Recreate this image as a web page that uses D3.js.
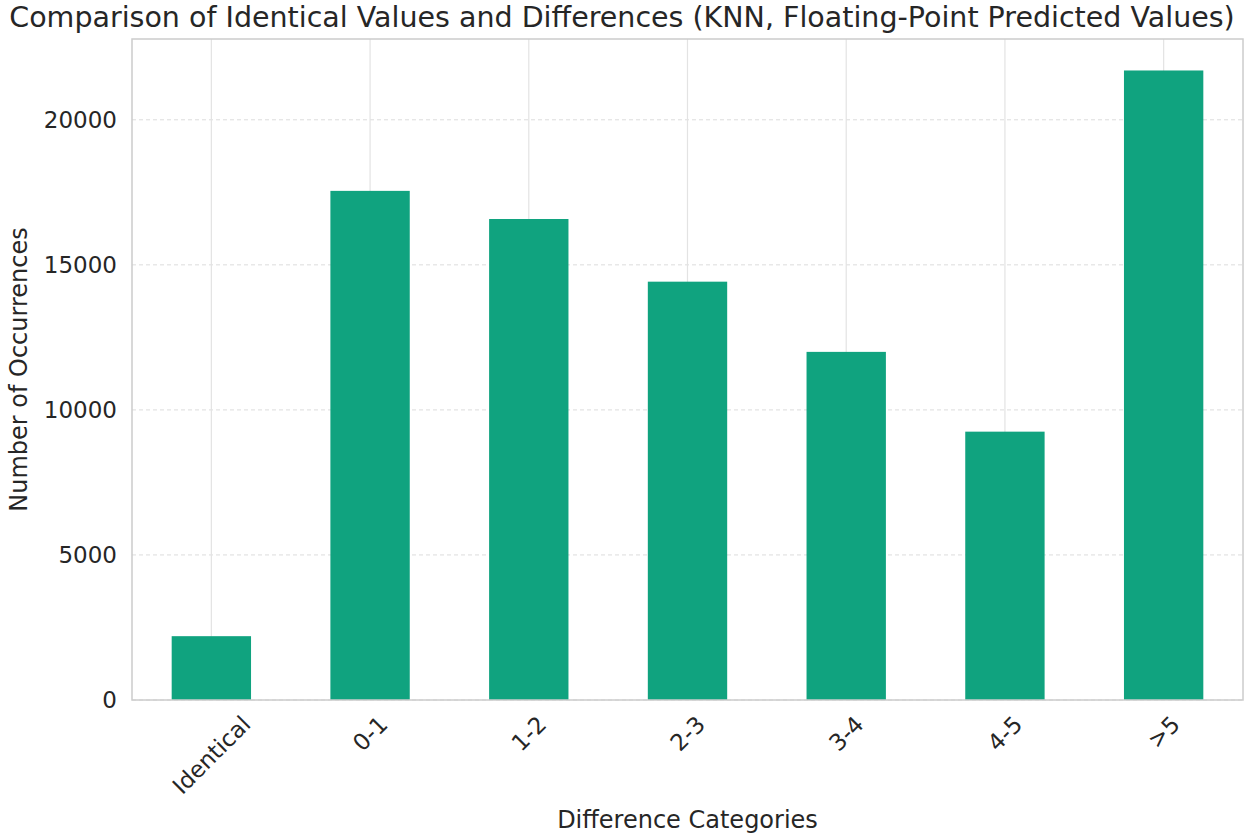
<!DOCTYPE html>
<html><head><meta charset="utf-8">
<script src="https://cdn.jsdelivr.net/npm/d3@7/dist/d3.min.js"></script>
<style>body{margin:0;background:#fff}svg{display:block;font-family:"DejaVu Sans",sans-serif}</style>
</head><body><svg id="c" width="1250" height="840"></svg>
<script>
const categories = ["Identical","0-1","1-2","2-3","3-4","4-5",">5"];
const counts = [2200,17550,16580,14420,12000,9250,21700];
const yTicks = [0,5000,10000,15000,20000];

const svg = d3.select("#c");
const m = {l:132, r:1243, t:39, b:700};
const x = d3.scaleBand().domain(categories).range([m.l,m.r]).paddingInner(0.5).paddingOuter(0.25);
const y = d3.scaleLinear().domain([0, d3.max(counts)*1.05]).range([m.b,m.t]);
const FS = 23;

// grid
svg.append("g").selectAll("line").data(yTicks).join("line")
  .attr("x1",m.l).attr("x2",m.r).attr("y1",d=>y(d)).attr("y2",d=>y(d))
  .attr("stroke","#dcdcdc").attr("stroke-width",1).attr("stroke-dasharray","4,3");
svg.append("g").selectAll("line").data(categories).join("line")
  .attr("x1",d=>x(d)+x.bandwidth()/2).attr("x2",d=>x(d)+x.bandwidth()/2)
  .attr("y1",m.t).attr("y2",m.b).attr("stroke","#e3e3e3").attr("stroke-width",1.2);

// bars
svg.append("g").selectAll("rect").data(counts).join("rect")
  .attr("x",(d,i)=>x(categories[i])).attr("width",x.bandwidth())
  .attr("y",d=>y(d)).attr("height",d=>m.b-y(d)).attr("fill","#10a37f");

// frame
svg.append("rect").attr("x",m.l).attr("y",m.t).attr("width",m.r-m.l).attr("height",m.b-m.t)
  .attr("fill","none").attr("stroke","#cccccc").attr("stroke-width",1.5);

// y axis
const ya = d3.axisLeft(y).tickValues(yTicks).tickSize(0).tickPadding(15).tickFormat(d3.format("d"));
const gy = svg.append("g").attr("transform",`translate(${m.l},0)`).call(ya);
gy.select(".domain").remove();
gy.selectAll("text").attr("font-size",FS).attr("fill","#262626").attr("font-family","DejaVu Sans");

// x axis (rotated, bbox centred under tick)
const xa = d3.axisBottom(x).tickSize(0).tickPadding(0);
const gx = svg.append("g").attr("transform",`translate(0,${m.b})`).call(xa);
gx.select(".domain").remove();
gx.selectAll("text").attr("font-size",FS).attr("fill","#262626").attr("font-family","DejaVu Sans")
  .attr("text-anchor","middle").attr("dy","0.35em").attr("y",0)
  .each(function(){
    const w = this.getComputedTextLength();
    const half = (w + FS*1.0) * Math.SQRT1_2 / 2;
    d3.select(this).attr("transform",`translate(0,${12 + half}) rotate(-45)`);
  });

// labels
svg.append("text").attr("x",(m.l+m.r)/2).attr("y",828).attr("text-anchor","middle")
  .attr("font-size",FS+1).attr("fill","#262626").text("Difference Categories");
svg.append("text").attr("transform",`translate(27,${(m.t+m.b)/2}) rotate(-90)`).attr("text-anchor","middle")
  .attr("font-size",FS+1).attr("fill","#262626").text("Number of Occurrences");
svg.append("text").attr("x",622).attr("y",27).attr("text-anchor","middle")
  .attr("font-size",28.5).attr("fill","#262626").text("Comparison of Identical Values and Differences (KNN, Floating-Point Predicted Values)");
</script></body></html>
